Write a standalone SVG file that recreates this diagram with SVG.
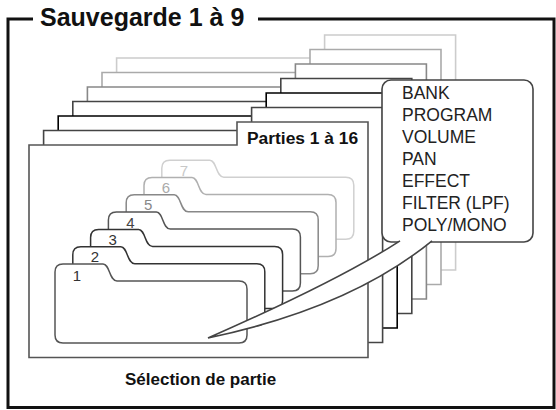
<svg xmlns="http://www.w3.org/2000/svg" width="556" height="410" viewBox="0 0 556 410">
<style>
  .sheet{fill:#fff;stroke-width:1.6;stroke-linejoin:miter}
  .part{fill:#fff;stroke-width:1.5}
  .num{font-family:"Liberation Sans",Arial,sans-serif;font-size:15px;text-anchor:middle}
  .lbl{font-family:"Liberation Sans",Arial,sans-serif;font-size:17.5px;fill:#222}
  .bold{font-family:"Liberation Sans",Arial,sans-serif;font-weight:bold;fill:#111}
</style>
<defs>
  <path id="partShape" d="M0,8 Q0,0 8,0 H48 C55,0 54,17 62,17 H184 Q192,17 192,25 V71 Q192,79 184,79 H8 Q0,79 0,71 Z"/>
</defs>
<rect width="556" height="410" fill="#fff"/>
<g id="frame">
  <path d="M33,19 H8 V407.5 H554 V19 H258" fill="none" stroke="#111" stroke-width="3"/>
  <text class="bold" x="40" y="26" font-size="25">Sauvegarde 1 à 9</text>
</g>
<g id="sheets">
  <path id="sheet7" class="sheet" stroke="#ccc" d="M116.6,270 V58 H324.6 V35 H455.6 V270 Z"/>
  <path id="sheet6" class="sheet" stroke="#aaa" d="M102,284.5 V72.5 H310 V49.5 H441 V284.5 Z"/>
  <path id="sheet5" class="sheet" stroke="#888" d="M87.4,299 V87 H295.4 V64 H426.4 V299 Z"/>
  <path id="sheet4" class="sheet" stroke="#444" d="M72.8,313.5 V101.5 H280.8 V78.5 H411.8 V313.5 Z"/>
  <path id="sheet3" class="sheet" stroke="#000" stroke-width="2.2" d="M58.2,328 V116 H266.2 V93 H397.2 V328 Z"/>
  <path id="sheet2" class="sheet" stroke="#444" d="M43.6,342.5 V130.5 H251.6 V107.5 H382.6 V342.5 Z"/>
</g>
<g id="front">
  <path class="sheet" stroke="#555" d="M29,357.5 V145 H237 V122 H368 V357.5 Z"/>
  <text class="bold" x="247" y="144" font-size="17.4">Parties 1 à 16</text>
</g>
<g id="parts">
  <g id="part7" transform="translate(161.8,160.2)"><use href="#partShape" class="part" stroke="#d0d0d0"/><text class="num" x="22" y="15.5" fill="#c8c8c8">7</text></g>
  <g id="part6" transform="translate(144,177.5)"><use href="#partShape" class="part" stroke="#b0b0b0"/><text class="num" x="22" y="15.5" fill="#aaa">6</text></g>
  <g id="part5" transform="translate(126.2,194.8)"><use href="#partShape" class="part" stroke="#888"/><text class="num" x="22" y="15.5" fill="#888">5</text></g>
  <g id="part4" transform="translate(108.4,212.1)"><use href="#partShape" class="part" stroke="#555"/><text class="num" x="22" y="15.5" fill="#444">4</text></g>
  <g id="part3" transform="translate(90.6,229.4)"><use href="#partShape" class="part" stroke="#333"/><text class="num" x="22" y="15.5" fill="#333">3</text></g>
  <g id="part2" transform="translate(72.8,246.7)"><use href="#partShape" class="part" stroke="#333"/><text class="num" x="22" y="15.5" fill="#333">2</text></g>
  <g id="part1" transform="translate(55,264)"><use href="#partShape" class="part" stroke="#555"/><text class="num" x="22" y="16.5" fill="#333">1</text></g>
</g>
<g id="callout">
  <rect x="382" y="80" width="151" height="162" rx="9" ry="9" fill="#fff" stroke="#444" stroke-width="1.6"/>
  <text class="lbl" x="402" y="99">BANK</text>
  <text class="lbl" x="402" y="121">PROGRAM</text>
  <text class="lbl" x="402" y="143">VOLUME</text>
  <text class="lbl" x="402" y="165">PAN</text>
  <text class="lbl" x="402" y="187">EFFECT</text>
  <text class="lbl" x="402" y="209">FILTER (LPF)</text>
  <text class="lbl" x="402" y="231">POLY/MONO</text>
</g>
<g id="connectors">
  <path d="M400,240.8 Q340,280 208,338 Q350,308 432,240.8" fill="#fff" stroke="#444" stroke-width="1.6"/>
</g>
<text class="bold" x="125" y="385" font-size="17">Sélection de partie</text>
</svg>
